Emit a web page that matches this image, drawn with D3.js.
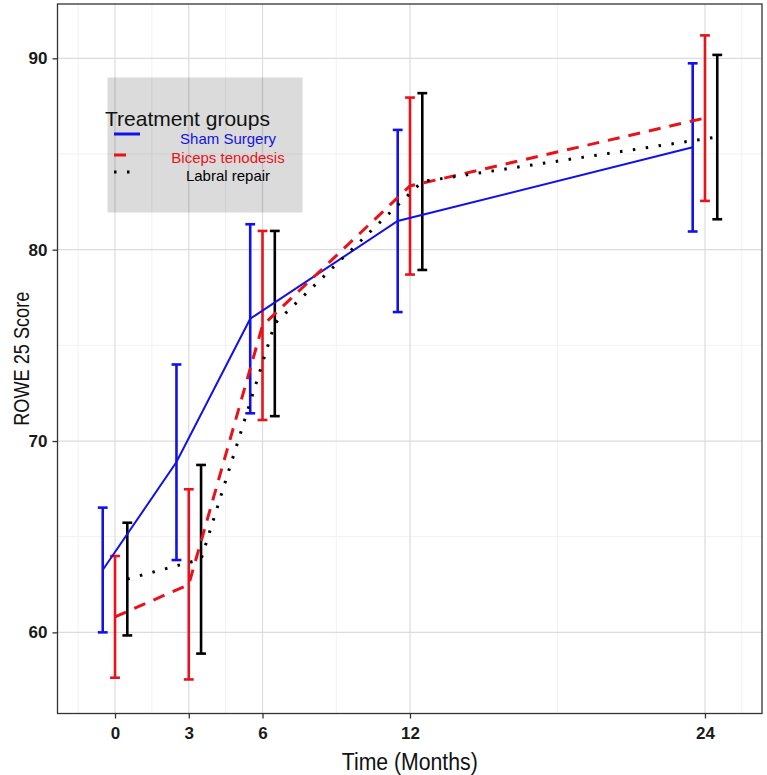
<!DOCTYPE html>
<html>
<head>
<meta charset="utf-8">
<script src="https://cdn.jsdelivr.net/npm/d3@7"></script>
<style>
	body { margin: 0; background: #fff; }
	svg { display: block; }
	text { font-family: "Liberation Sans", Arial, sans-serif; }
</style>
</head>
<body>
<div id="main-view"></div>
<script>
var times = [0, 3, 6, 12, 24];
var xTickLabels = ["0", "3", "6", "12", "24"];
var yTicks = [60, 70, 80, 90];
var xMinor = [-1.5, 1.5, 4.5, 9, 18, 25.5];
var yMinor = [65, 75, 85];

var groups = ["Sham Surgery", "Biceps tenodesis", "Labral repair"];

// means and error bar ends
var shamMean = [63.26, 68.9, 76.39, 81.5, 85.35];
var shamLow = [60.0, 63.78, 71.45, 76.74, 80.95];
var shamHigh = [66.52, 74.0, 81.33, 86.26, 89.74];

var bicepsMean = [60.81, 62.5, 76.04, 83.33, 86.88];
var bicepsLow = [57.63, 57.54, 71.1, 78.7, 82.55];
var bicepsHigh = [63.99, 67.48, 80.98, 87.95, 91.2];

var labralMean = [62.79, 63.82, 76.14, 83.56, 85.89];
var labralLow = [59.84, 58.89, 71.3, 78.94, 81.59];
var labralHigh = [65.73, 68.75, 80.98, 88.18, 90.18];

var width = 767,
	height = 775;
var panel = { left: 57.5, right: 762, top: 4, bottom: 713.5 };

var dodge = [-0.5, 0, 0.5];
var colors = ["#1212e8", "#e8121a", "#000000"];
var dashes = [null, "12,9", "2.5,10.5"];
var lineWidths = [2, 3, 3];

var series = [
	{ name: groups[0], mean: shamMean, low: shamLow, high: shamHigh },
	{ name: groups[1], mean: bicepsMean, low: bicepsLow, high: bicepsHigh },
	{ name: groups[2], mean: labralMean, low: labralLow, high: labralHigh }
];

var x = d3.scaleLinear().domain([-2.34, 26.32]).range([panel.left, panel.right]);
var y = d3.scaleLinear().domain([55.76, 92.84]).range([panel.bottom, panel.top]);

var svg = d3.select("#main-view").append("svg")
	.attr("width", width)
	.attr("height", height);

// grid
var grid = svg.append("g");
grid.selectAll(".xminor").data(xMinor).enter().append("line")
	.attr("x1", function(d) { return x(d); })
	.attr("x2", function(d) { return x(d); })
	.attr("y1", panel.top).attr("y2", panel.bottom)
	.attr("stroke", "#f1f1f1").attr("stroke-width", 1);
grid.selectAll(".yminor").data(yMinor).enter().append("line")
	.attr("y1", function(d) { return y(d); })
	.attr("y2", function(d) { return y(d); })
	.attr("x1", panel.left).attr("x2", panel.right)
	.attr("stroke", "#f1f1f1").attr("stroke-width", 1);
grid.selectAll(".xmajor").data(times).enter().append("line")
	.attr("x1", function(d) { return x(d); })
	.attr("x2", function(d) { return x(d); })
	.attr("y1", panel.top).attr("y2", panel.bottom)
	.attr("stroke", "#dcdcdc").attr("stroke-width", 1.2);
grid.selectAll(".ymajor").data(yTicks).enter().append("line")
	.attr("y1", function(d) { return y(d); })
	.attr("y2", function(d) { return y(d); })
	.attr("x1", panel.left).attr("x2", panel.right)
	.attr("stroke", "#dcdcdc").attr("stroke-width", 1.2);

// legend background (see-through, grid shows under it)
svg.append("rect")
	.attr("x", 107.5).attr("y", 77.5)
	.attr("width", 195).attr("height", 135)
	.attr("fill", "#000").attr("fill-opacity", 0.14);

// error bars
var capHalf = 0.2;
series.forEach(function(s, i) {
	var g = svg.append("g").attr("stroke", colors[i]).attr("stroke-width", 2.6);
	times.forEach(function(t, j) {
		var xt = t + dodge[i];
		g.append("line")
			.attr("x1", x(xt)).attr("x2", x(xt))
			.attr("y1", y(s.low[j])).attr("y2", y(s.high[j]));
		g.append("line")
			.attr("x1", x(xt - capHalf)).attr("x2", x(xt + capHalf))
			.attr("y1", y(s.low[j])).attr("y2", y(s.low[j]));
		g.append("line")
			.attr("x1", x(xt - capHalf)).attr("x2", x(xt + capHalf))
			.attr("y1", y(s.high[j])).attr("y2", y(s.high[j]));
	});
});

// mean lines
series.forEach(function(s, i) {
	var line = d3.line()
		.x(function(d, j) { return x(times[j] + dodge[i]); })
		.y(function(d) { return y(d); });
	svg.append("path")
		.datum(s.mean)
		.attr("d", line)
		.attr("fill", "none")
		.attr("stroke", colors[i])
		.attr("stroke-width", lineWidths[i])
		.attr("stroke-dasharray", dashes[i]);
});

// panel border
svg.append("rect")
	.attr("x", panel.left).attr("y", panel.top)
	.attr("width", panel.right - panel.left)
	.attr("height", panel.bottom - panel.top)
	.attr("fill", "none").attr("stroke", "#333").attr("stroke-width", 1.3);

// axes
var xAxis = d3.axisBottom(x).tickValues(times)
	.tickFormat(function(d, i) { return xTickLabels[i]; })
	.tickSize(5).tickPadding(8);
var yAxis = d3.axisLeft(y).tickValues(yTicks).tickSize(5).tickPadding(5);

var gx = svg.append("g").attr("transform", "translate(0," + panel.bottom + ")").call(xAxis);
var gy = svg.append("g").attr("transform", "translate(" + panel.left + ",0)").call(yAxis);
[gx, gy].forEach(function(g) {
	g.select(".domain").remove();
	g.selectAll(".tick line").attr("stroke", "#333").attr("stroke-width", 1.3);
	g.selectAll(".tick text")
		.attr("fill", "#1a1a1a")
		.style("font-size", "17px")
		.style("font-weight", "bold");
});

// titles look condensed in the original, squeeze them a bit
svg.append("text")
	.attr("x", (panel.left + panel.right) / 2)
	.attr("y", 770)
	.attr("text-anchor", "middle")
	.attr("textLength", 136)
	.attr("lengthAdjust", "spacingAndGlyphs")
	.style("font-size", "23px")
	.attr("fill", "#111")
	.text("Time (Months)");

svg.append("text")
	.attr("transform", "translate(29," + ((panel.top + panel.bottom) / 2) + ") rotate(-90)")
	.attr("text-anchor", "middle")
	.attr("textLength", 134)
	.attr("lengthAdjust", "spacingAndGlyphs")
	.style("font-size", "22px")
	.attr("fill", "#111")
	.text("ROWE 25 Score");

// legend
var legend = svg.append("g");
legend.append("text")
	.attr("x", 105).attr("y", 126)
	.style("font-size", "21px")
	.attr("fill", "#111")
	.text("Treatment groups");

var keyY = [134, 155, 172];
var keyEnd = [140, 127, 130];
var labelY = [144, 163, 181];
series.forEach(function(s, i) {
	legend.append("line")
		.attr("x1", 114).attr("x2", keyEnd[i])
		.attr("y1", keyY[i]).attr("y2", keyY[i])
		.attr("stroke", colors[i])
		.attr("stroke-width", 3)
		.attr("stroke-dasharray", dashes[i]);
	legend.append("text")
		.attr("x", 228).attr("y", labelY[i])
		.attr("text-anchor", "middle")
		.style("font-size", "15px")
		.attr("fill", colors[i])
		.text(s.name);
});
</script>
</body>
</html>
